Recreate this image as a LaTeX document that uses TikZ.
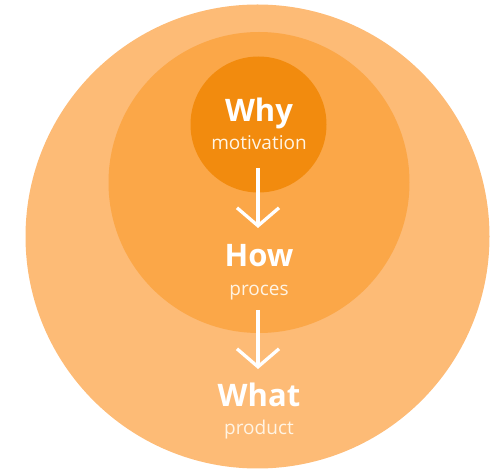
\documentclass[tikz,border=0pt]{standalone}
\usepackage{fontspec}
\setmainfont{Open Sans}
\usetikzlibrary{arrows.meta}
\definecolor{outerc}{RGB}{253,187,118}
\definecolor{midc}{RGB}{251,167,72}
\definecolor{innerc}{RGB}{242,139,14}
\definecolor{subc}{RGB}{255,244,228}
\tikzset{
  title/.style={text=white, font=\fontsize{31}{31}\selectfont\bfseries, anchor=base, inner sep=0pt},
  subtitle/.style={text=subc, font=\fontsize{19}{19}\selectfont, anchor=base, inner sep=0pt},
  flow/.style={draw=white, line width=3.3pt, -{Straight Barb[length=18pt,width=42pt,line width=3.3pt]}}
}
\begin{document}
\begin{tikzpicture}[x=1pt,y=-1pt]
\useasboundingbox (0,0) rectangle (504,470);
\fill[outerc] (257.5,236.5) circle[radius=232pt];
\fill[midc] (259,182.5) circle[radius=150.5pt];
\fill[innerc] (258.5,124.5) circle[radius=68pt];
\node[title] (why) at (259,122) {Why};
\node[subtitle] (whysub) at (259,150) {motivation};
\node[title] (how) at (259,267) {How};
\node[subtitle] (howsub) at (259,296) {proces};
\node[title] (what) at (259,407) {What};
\node[subtitle] (whatsub) at (259,435) {product};
\coordinate (a1s) at (258,168);
\coordinate (a1e) at (258,228);
\coordinate (a2s) at (258,310);
\coordinate (a2e) at (258,369);
\draw[flow] (a1s) -- (a1e);
\draw[flow] (a2s) -- (a2e);
\end{tikzpicture}
\end{document}
